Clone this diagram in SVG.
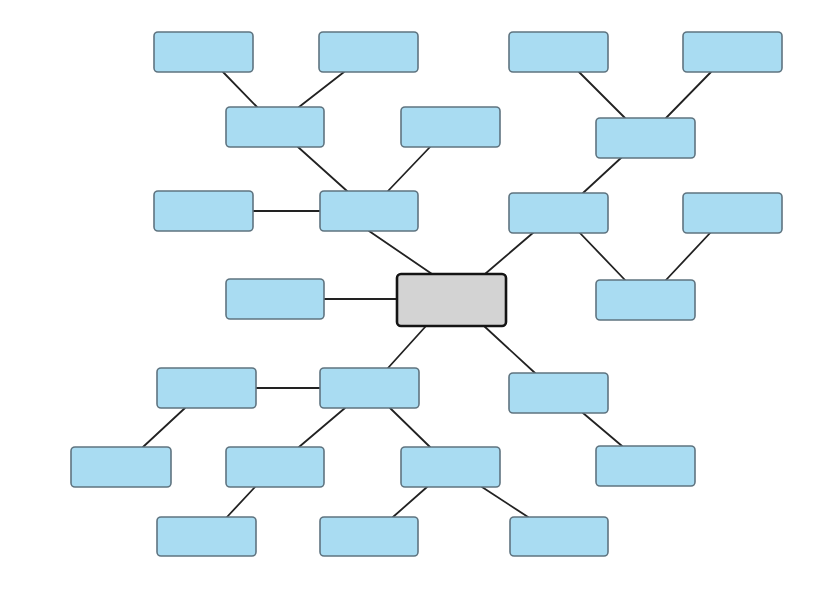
<svg xmlns="http://www.w3.org/2000/svg" width="824" height="590" viewBox="0 0 824 590">
<style>
.n{fill:#a9dcf2;stroke:#5f7480;stroke-width:1.6}
.c{fill:#d3d3d3;stroke:#141414;stroke-width:2.6}
.e line{stroke:#222;stroke-width:1.8;stroke-linecap:round}
</style>
<rect width="824" height="590" fill="#fff"/>
<g class="e" id="connectors">
<line x1="223" y1="72" x2="257" y2="107"/>
<line x1="344" y1="72" x2="299" y2="107"/>
<line x1="298" y1="147" x2="347" y2="191"/>
<line x1="430" y1="147" x2="388" y2="191"/>
<line x1="253" y1="211" x2="320" y2="211"/>
<line x1="369" y1="231" x2="432" y2="274"/>
<line x1="324" y1="299" x2="397" y2="299"/>
<line x1="579" y1="72" x2="625" y2="118"/>
<line x1="711" y1="72" x2="666" y2="118"/>
<line x1="622" y1="157" x2="583" y2="193"/>
<line x1="534" y1="232" x2="485" y2="274"/>
<line x1="579" y1="232" x2="625" y2="280"/>
<line x1="711" y1="232" x2="666" y2="280"/>
<line x1="426" y1="326" x2="388" y2="368"/>
<line x1="484" y1="326" x2="535" y2="373"/>
<line x1="256" y1="388" x2="320" y2="388"/>
<line x1="185" y1="408" x2="143" y2="447"/>
<line x1="345" y1="408" x2="299" y2="447"/>
<line x1="390" y1="408" x2="430" y2="447"/>
<line x1="583" y1="413" x2="622" y2="446"/>
<line x1="255" y1="487" x2="227" y2="517"/>
<line x1="427" y1="487" x2="393" y2="517"/>
<line x1="482" y1="487" x2="528" y2="517"/>
</g>
<g id="center"><rect class="c" x="397" y="274" width="109" height="52" rx="4"/></g>
<g id="n1"><rect class="n" x="154" y="32" width="99" height="40" rx="4"/></g>
<g id="n2"><rect class="n" x="319" y="32" width="99" height="40" rx="4"/></g>
<g id="n3"><rect class="n" x="509" y="32" width="99" height="40" rx="4"/></g>
<g id="n4"><rect class="n" x="683" y="32" width="99" height="40" rx="4"/></g>
<g id="n5"><rect class="n" x="226" y="107" width="98" height="40" rx="4"/></g>
<g id="n6"><rect class="n" x="401" y="107" width="99" height="40" rx="4"/></g>
<g id="n7"><rect class="n" x="596" y="118" width="99" height="40" rx="4"/></g>
<g id="n8"><rect class="n" x="154" y="191" width="99" height="40" rx="4"/></g>
<g id="n9"><rect class="n" x="320" y="191" width="98" height="40" rx="4"/></g>
<g id="n10"><rect class="n" x="509" y="193" width="99" height="40" rx="4"/></g>
<g id="n11"><rect class="n" x="683" y="193" width="99" height="40" rx="4"/></g>
<g id="n12"><rect class="n" x="226" y="279" width="98" height="40" rx="4"/></g>
<g id="n13"><rect class="n" x="596" y="280" width="99" height="40" rx="4"/></g>
<g id="n14"><rect class="n" x="157" y="368" width="99" height="40" rx="4"/></g>
<g id="n15"><rect class="n" x="320" y="368" width="99" height="40" rx="4"/></g>
<g id="n16"><rect class="n" x="509" y="373" width="99" height="40" rx="4"/></g>
<g id="n17"><rect class="n" x="71" y="447" width="100" height="40" rx="4"/></g>
<g id="n18"><rect class="n" x="226" y="447" width="98" height="40" rx="4"/></g>
<g id="n19"><rect class="n" x="401" y="447" width="99" height="40" rx="4"/></g>
<g id="n20"><rect class="n" x="596" y="446" width="99" height="40" rx="4"/></g>
<g id="n21"><rect class="n" x="157" y="517" width="99" height="39" rx="4"/></g>
<g id="n22"><rect class="n" x="320" y="517" width="98" height="39" rx="4"/></g>
<g id="n23"><rect class="n" x="510" y="517" width="98" height="39" rx="4"/></g>
</svg>
